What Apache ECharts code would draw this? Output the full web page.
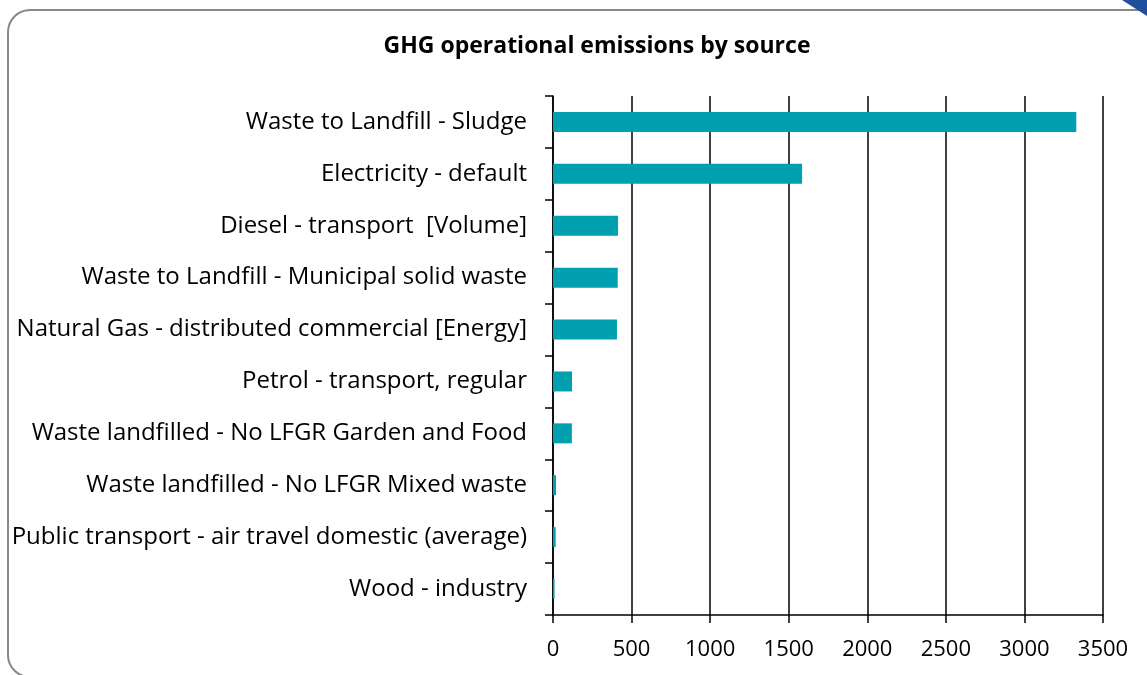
<!DOCTYPE html>
<html>
<head>
<meta charset="utf-8">
<style>
  html, body { margin: 0; padding: 0; background: #fff; }
  #chart { width: 1147px; height: 675px; }
</style>
<script src="https://cdn.jsdelivr.net/npm/echarts@6/dist/echarts.min.js"></script>
</head>
<body>
<div id="chart"></div>
<script>
(function (win) {
    var sources = [
        'Waste to Landfill - Sludge',
        'Electricity - default',
        'Diesel - transport  [Volume]',
        'Waste to Landfill - Municipal solid waste',
        'Natural Gas - distributed commercial [Energy]',
        'Petrol - transport, regular',
        'Waste landfilled - No LFGR Garden and Food',
        'Waste landfilled - No LFGR Mixed waste',
        'Public transport - air travel domestic (average)',
        'Wood - industry'
    ];
    var emissions = [3330, 1585, 414, 412, 407, 121, 120, 19, 17, 10];

    var font = 'Open Sans, Noto Sans, sans-serif';

    var chart = echarts.init(document.getElementById('chart'));

    chart.setOption({
        backgroundColor: '#fff',
        animation: false,
        title: {
            text: 'GHG operational emissions by source',
            left: 592,
            top: 30,
            textAlign: 'center',
            textStyle: {
                fontFamily: font,
                fontSize: 23,
                fontWeight: 'bold',
                color: '#000'
            }
        },
        graphic: [
            {
                type: 'rect',
                shape: { x: 8, y: 10, width: 1155, height: 667, r: 22 },
                style: { fill: 'none', stroke: '#888', lineWidth: 2 },
                z: -1
            },
            {
                type: 'polygon',
                shape: { points: [[1122, 0], [1147, 0], [1147, 16]] },
                style: { fill: '#1f4e9a' }
            }
        ],
        grid: {
            left: 553,
            top: 96,
            width: 550,
            height: 519
        },
        xAxis: {
            type: 'value',
            min: 0,
            max: 3500,
            interval: 500,
            axisLine: { show: true, lineStyle: { color: '#000', width: 1.5 } },
            axisTick: { show: true, length: 8, lineStyle: { color: '#000', width: 1.5 } },
            splitLine: { show: true, lineStyle: { color: '#000', width: 1.5 } },
            axisLabel: {
                color: '#000',
                fontFamily: font,
                fontSize: 22,
                margin: 24,
                formatter: function (v) { return String(v); }
            }
        },
        yAxis: {
            type: 'category',
            inverse: true,
            data: sources,
            axisLine: { show: true, lineStyle: { color: '#000', width: 1.5 } },
            axisTick: { show: true, length: 8, lineStyle: { color: '#000', width: 1.5 } },
            axisLabel: {
                color: '#000',
                fontFamily: font,
                fontSize: 24,
                margin: 26
            }
        },
        series: [
            {
                type: 'bar',
                data: emissions,
                barWidth: 20,
                itemStyle: { color: '#00a0b0' }
            }
        ]
    });
})(this);
</script>
</body>
</html>
